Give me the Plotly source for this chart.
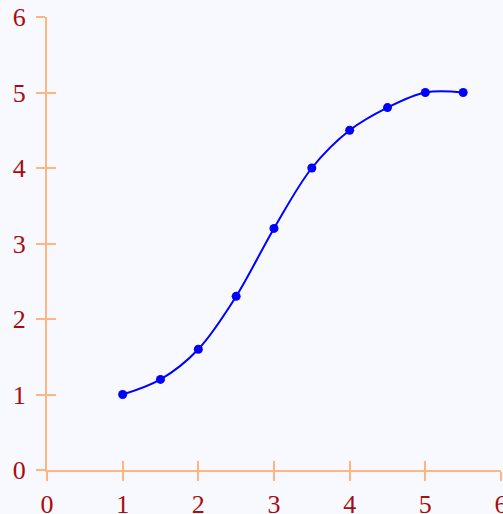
import plotly.graph_objects as go

x_vals = [1, 1.5, 2, 2.5, 3, 3.5, 4, 4.5, 5, 5.5]
y_vals = [1, 1.2, 1.6, 2.3, 3.2, 4.0, 4.5, 4.8, 5.0, 5.0]
tick_vals = [0, 1, 2, 3, 4, 5, 6]

axis_color = "#ffb582"
label_color = "#a80c0c"
bg_color = "#f8f8ff"
font_family = "Liberation Serif"

fig = go.Figure()
fig.add_trace(go.Scatter(
    x=x_vals, y=y_vals, mode="lines+markers",
    line=dict(color="#0000ff", width=2, shape="spline", smoothing=1),
    marker=dict(color="#0000ff", size=9),
    showlegend=False, cliponaxis=False, hoverinfo="skip",
))

common = dict(range=[0, 6], tickvals=tick_vals, showgrid=False, zeroline=False,
              showline=True, linecolor=axis_color, linewidth=2, automargin=False,
              tickcolor=axis_color, tickwidth=2, ticklen=9, ticklabeloverflow="allow")

fig.update_layout(
    width=503, height=514,
    margin=dict(l=47, r=2, t=17, b=44),
    paper_bgcolor=bg_color, plot_bgcolor=bg_color,
    font=dict(family=font_family, size=26, color=label_color),
    xaxis=dict(**common, ticks="outside", ticklabelstandoff=1),
    yaxis=dict(**common, ticks="outside", ticklabelstandoff=5),
    xaxis2=dict(**common, ticks="inside", showticklabels=False, overlaying="x"),
    yaxis2=dict(**common, ticks="inside", showticklabels=False, overlaying="y"),
)
fig.add_trace(go.Scatter(x=[], y=[], xaxis="x2", yaxis="y2", showlegend=False))

fig.write_html(
    "out.html",
    config={"displayModeBar": False},
    post_script="document.body.style.margin='0';document.body.style.overflow='hidden';"
                f"document.body.style.background='{bg_color}';",
)
